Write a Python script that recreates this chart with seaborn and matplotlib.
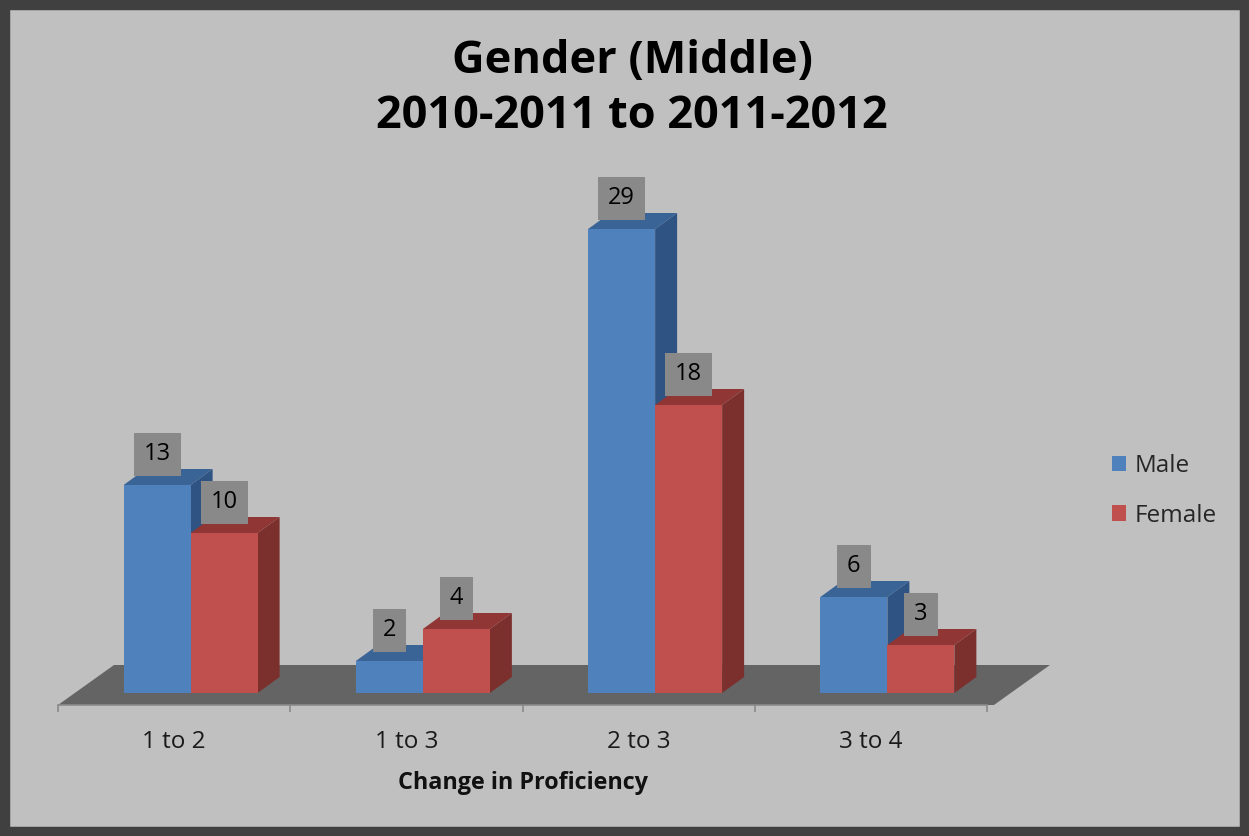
import matplotlib
matplotlib.use("Agg")
import matplotlib.pyplot as plt
import seaborn as sns
import pandas as pd
from matplotlib.patches import Polygon, Rectangle

# ---------------- data ----------------
categories = ["1 to 2", "1 to 3", "2 to 3", "3 to 4"]
male = [13, 2, 29, 6]
female = [10, 4, 18, 3]
series = ["Male", "Female"]
title_lines = ["Gender (Middle)", "2010-2011 to 2011-2012"]
x_label = "Change in Proficiency"

df = pd.DataFrame({
    "category": categories * 2,
    "value": male + female,
    "series": [series[0]] * len(categories) + [series[1]] * len(categories),
})

# ---------------- style ----------------
sns.set_theme(style="white")
plt.rcParams["font.family"] = ["Open Sans", "DejaVu Sans"]

W, H = 1249, 836
BG = "#C0C0C0"
fig = plt.figure(figsize=(W / 100, H / 100), dpi=100, facecolor=BG)

# axes area in pixels
ax_left, ax_right = 58, 987
ax_top, ax_bot = 197, 705
ymin, ymax = -0.75, 31.0
ax = fig.add_axes([ax_left / W, 1 - ax_bot / H,
                   (ax_right - ax_left) / W, (ax_bot - ax_top) / H])
ax.set_facecolor("none")

front = {"Male": "#4F81BD", "Female": "#C0504D"}
side = {"Male": "#2F5383", "Female": "#7B302E"}
top = {"Male": "#3A6496", "Female": "#903634"}

sns.barplot(data=df, x="category", y="value", hue="series", palette=front,
            hue_order=series, order=categories, width=0.577, ax=ax,
            saturation=1, edgecolor="none", linewidth=0, legend=True)

ax.set_xlim(-0.5, 3.5)
ax.set_ylim(ymin, ymax)

px_x = (ax_right - ax_left) / 4.0          # px per x unit
px_y = (ax_bot - ax_top) / (ymax - ymin)    # px per y unit

# floor
fdx, fdy = 56 / px_x, 40 / px_y
floor = Polygon([(-0.5, ymin), (3.5 + 0.03, ymin), (3.5 + 0.03 + fdx, ymin + fdy),
                 (-0.5 + fdx, ymin + fdy)], closed=True, fc="#646464", ec="none",
                zorder=1, clip_on=False)
ax.add_patch(floor)

# 3D bars
shift = 16.5 / px_x
bdx, bdy = 22 / px_x, 16 / px_y
for k, (name, cont) in enumerate(zip(series, ax.containers)):
    z = 3 + k
    for bar in cont:
        bar.set_x(bar.get_x() + shift)
        bar.set_zorder(z + 0.2)
        bar.set_clip_on(False)
        x0 = bar.get_x()
        x1 = x0 + bar.get_width()
        h = bar.get_height()
        ax.add_patch(Polygon([(x1, 0), (x1 + bdx, bdy), (x1 + bdx, h + bdy), (x1, h)],
                             closed=True, fc=side[name], ec="none", zorder=z + 0.1,
                             clip_on=False))
        ax.add_patch(Polygon([(x0, h), (x1, h), (x1 + bdx, h + bdy), (x0 + bdx, h + bdy)],
                             closed=True, fc=top[name], ec="none", zorder=z + 0.1,
                             clip_on=False))
        ax.annotate(f"{h:.0f}", xy=(x0 + bar.get_width() / 2, h), xytext=(0, 22),
                    textcoords="offset points", ha="center", va="center",
                    fontsize=17, color="#000000", zorder=10, annotation_clip=False,
                    bbox=dict(boxstyle="square,pad=0.42", fc="#898989", ec="none"))

# axes styling
for s in ["top", "right", "left"]:
    ax.spines[s].set_visible(False)
ax.spines["bottom"].set_color("#8A8A8A")
ax.spines["bottom"].set_linewidth(1.2)
ax.set_yticks([])
ax.set_ylabel("")
ax.set_xticks(range(len(categories)))
ax.set_xticklabels(categories, fontsize=17.5, color="#1a1a1a")
ax.set_xticks([i - 0.5 for i in range(len(categories) + 1)], minor=True)
ax.tick_params(axis="x", which="major", length=0, pad=18)
ax.tick_params(axis="x", which="minor", length=5, width=1.2, color="#8A8A8A",
               direction="out", bottom=True)
ax.set_xlabel(x_label, fontsize=16.8, fontweight="bold", color="#111111", labelpad=12)

# legend
handles = [Rectangle((0, 0), 1, 1, fc=front[s], ec="none") for s in series]
ax.legend(handles, series, loc="center left", bbox_to_anchor=(1090 / W, 1 - 491 / H),
          bbox_transform=fig.transFigure, frameon=False, fontsize=17.5,
          handlelength=0.6, handleheight=0.6, handletextpad=0.35, labelspacing=1.05)

# title
fig.text(632 / W, 1 - 61 / H, title_lines[0], ha="center", va="center",
         fontsize=32.5, fontweight="bold", color="#000000")
fig.text(632 / W, 1 - 116 / H, title_lines[1], ha="center", va="center",
         fontsize=32.5, fontweight="bold", color="#000000")

# outer border
fig.patches.append(Rectangle((0, 0), 1, 1, transform=fig.transFigure, fill=False,
                             ec="#404040", lw=14, zorder=100))

fig.savefig("out.png", dpi=100, facecolor=BG)
